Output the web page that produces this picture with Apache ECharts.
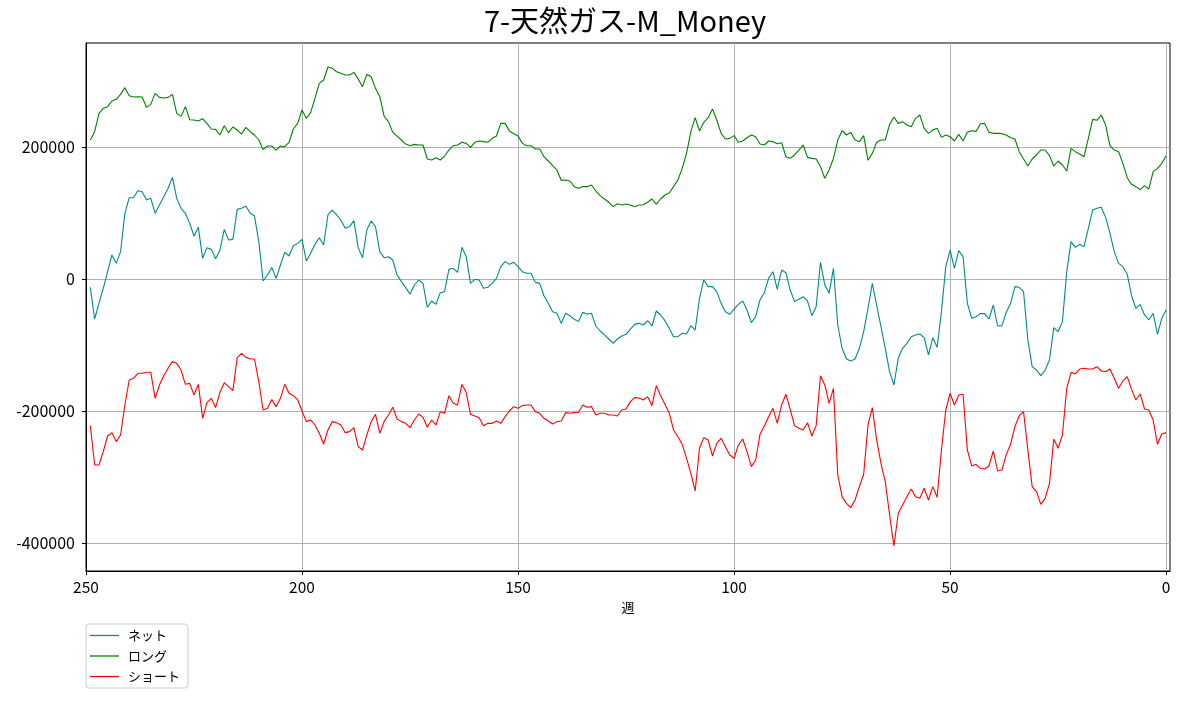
<!DOCTYPE html>
<html><head><meta charset="utf-8">
<script src="https://cdn.jsdelivr.net/npm/echarts@6/dist/echarts.min.js"></script>
<style>html,body{margin:0;padding:0;background:#fff}#c{width:1180px;height:701px}</style>
</head><body><div id="c"></div>
<script>
const chartTitle = '7-天然ガス-M_Money';
const xAxisName = '週';
const seriesNames = ['ネット', 'ロング', 'ショート'];
const firstWeek = 249; // values run from week 249 down to week 0
const xTicks = [250, 200, 150, 100, 50, 0];
const yTicks = [-400000, -200000, 0, 200000];

const netValues = [
-12600,-60600,-36900,-14100,11100,36400,23700,41400,99500,123200,
123200,133800,132300,119700,122200,99500,112100,124700,137400,154000,
122200,107100,99500,84300,65100,78300,31300,47500,44900,30800,
43900,75200,59100,60100,105500,107100,110600,99500,95400,56600,
-3000,6100,17400,1000,21200,40400,34800,50500,54000,60100,
27300,38900,52500,62600,51500,97000,104500,97000,89400,76800,
79300,88400,47500,32300,74200,87900,79300,41400,32300,33800,
28800,6100,-4000,-13100,-23200,-9100,-1500,-6600,-42900,-33300,
-38400,-20700,-19200,14600,16200,10100,48000,33800,-6600,-500,
-1500,-14100,-12600,-6600,1000,18700,26300,22200,25300,18700,
11100,8600,8600,-5100,-6600,-25300,-36900,-49500,-52000,-67200,
-52000,-55600,-61100,-64600,-50500,-53500,-52000,-71200,-78800,-84800,
-90900,-97500,-90900,-86400,-83800,-75800,-68700,-67200,-69700,-63100,
-71200,-48500,-54500,-63100,-74700,-87400,-87400,-82300,-83300,-70700,
-77300,-29300,-1500,-11600,-11600,-19200,-36900,-49500,-53500,-45500,
-38400,-33300,-47000,-66200,-57100,-31800,-20700,1000,11100,-15700,
13600,9600,-16700,-34300,-30800,-26800,-33300,-55600,-41900,25300,
-9100,-21700,16200,-69700,-105000,-121200,-124200,-121200,-105000,-79800,
-44400,-6600,-39400,-72200,-105000,-140400,-160600,-120200,-105000,-97500,
-87400,-84800,-83300,-88900,-115100,-88900,-103500,-49500,18700,43900,
16200,42900,33800,-36900,-59600,-57100,-52500,-52500,-60600,-39400,
-71200,-70700,-50800,-36900,-11600,-12600,-19200,-92000,-132800,-137900,
-146500,-137900,-122700,-73700,-79800,-64600,11100,56600,48000,52500,
49000,76800,104500,107100,108600,93400,69200,41400,23700,18700,
7100,-25300,-44400,-38400,-54500,-62100,-52000,-83800,-59600,-47000
];

const longValues = [
210600,223200,251000,258600,261100,269700,272200,279800,289900,277800,
275700,276200,275700,260100,264600,281300,275200,274200,275200,279800,
251000,246400,261100,241400,240900,239400,242900,235300,227300,226700,
218200,232300,221700,230300,225700,219700,229800,223200,218200,210600,
195900,201500,201500,195400,201500,200500,207100,227300,235800,256000,
243400,252500,273700,296400,301500,321200,319200,314100,311600,309100,
309100,313100,303000,291400,310100,306500,288900,276200,246900,238400,
222200,216600,210600,204500,202000,204000,203000,203000,181800,180300,
183800,180300,186300,195400,202000,203000,207100,205500,199500,207100,
209100,208100,207100,213100,216600,235800,235800,224200,220200,216600,
205500,202000,202000,197000,197000,185300,178800,171700,165100,149500,
150000,148500,139900,137400,139900,139900,142400,133300,126300,121200,
116200,109600,114100,112100,113600,112100,109600,112100,112600,116200,
121200,113600,121200,127300,130300,139900,150000,167700,190400,223200,
244400,224200,237400,244400,257600,240900,220700,212100,213100,217200,
207100,209100,214100,218200,215600,204500,203000,209100,208100,205000,
206500,185300,182800,187900,195400,203000,184300,182800,181800,170200,
152500,165100,182800,210600,224700,218200,222200,210600,208100,217200,
179800,190400,207100,210600,210600,234300,245400,235800,238400,233300,
230800,243400,248500,228300,220700,225700,228300,214600,218200,215600,
209100,219200,209100,222200,224700,223700,234800,235800,222200,220700,
220700,220200,218200,214100,212100,192900,181800,171200,181800,187900,
195400,195400,186900,171200,178800,172700,163600,198000,192900,189400,
185300,213100,241900,240400,248500,233300,202000,195400,192900,175200,
153500,143400,139900,135300,141400,136400,162600,167700,175200,186900
];

const shortValues = [
-222200,-281800,-281800,-261600,-237900,-232800,-246400,-236300,-190900,-153000,
-150500,-142900,-142900,-141400,-141400,-180800,-160600,-146500,-135300,-125200,
-127800,-137900,-159600,-158100,-175700,-159600,-211100,-187400,-180800,-194900,
-171700,-157100,-163100,-169200,-119200,-112600,-118700,-121200,-121200,-155500,
-198500,-195900,-182600,-193400,-180800,-159600,-173200,-176800,-183300,-200000,
-216100,-213600,-221200,-233800,-250000,-228800,-216100,-217700,-221200,-232800,
-231300,-225200,-254000,-259100,-236300,-216100,-205000,-233800,-216100,-206000,
-194400,-212100,-216100,-218700,-225200,-213600,-204500,-209600,-224700,-213600,
-221200,-201000,-203500,-176800,-188400,-190900,-159600,-171700,-205000,-207600,
-210100,-222200,-218700,-218700,-215100,-218700,-208600,-200000,-193400,-195900,
-191900,-190900,-190900,-201000,-203500,-211100,-215100,-219700,-216100,-215100,
-202500,-203500,-202500,-202000,-190900,-194400,-193400,-206000,-203500,-203500,
-206000,-206000,-207600,-198500,-197000,-185800,-179800,-180300,-183300,-178300,
-191900,-161600,-176800,-189900,-203500,-228800,-238900,-250500,-271700,-294400,
-321200,-256500,-240400,-243900,-268200,-249000,-241400,-254000,-266600,-271700,
-251500,-242400,-261600,-284300,-274200,-235400,-222700,-208600,-195900,-218700,
-190900,-174700,-197500,-222200,-226200,-228800,-217700,-237900,-222200,-146500,
-160600,-188400,-165600,-296400,-329800,-339900,-346400,-334800,-314600,-295900,
-221200,-194900,-243900,-279300,-307000,-357500,-404500,-355000,-342400,-329800,
-318200,-329800,-332300,-317100,-334800,-314600,-330800,-259100,-198500,-173200,
-190900,-175700,-174700,-259100,-283300,-280800,-286800,-287900,-283300,-260600,
-290900,-289400,-266100,-250500,-223700,-207100,-201000,-259100,-314600,-322200,
-341400,-332300,-309600,-242400,-256500,-236300,-165600,-141400,-143900,-136400,
-135300,-136400,-136400,-132800,-139400,-140400,-136400,-150500,-165600,-154500,
-148000,-167200,-183300,-174200,-197000,-198500,-213600,-250500,-234800,-232800
];

const colors = ['#008b8b', '#008000', '#ff0000'];
const FONT = '"Noto Sans CJK JP", "Noto Sans", sans-serif';

function toPairs(vals) { return vals.map((v, i) => [firstWeek - i, v]); }

const chart = echarts.init(document.getElementById('c'), null, { renderer: 'canvas' });

const lineSeries = [netValues, longValues, shortValues].map((vals, k) => ({
  name: seriesNames[k],
  type: 'line',
  data: toPairs(vals),
  symbol: 'none',
  showSymbol: false,
  smooth: false,
  animation: false,
  z: 3,
  lineStyle: { color: colors[k], width: 1.1 },
  itemStyle: { color: colors[k] }
}));

chart.setOption({
  animation: false,
  textStyle: { fontFamily: FONT },
  title: {
    text: chartTitle,
    left: 625,
    textAlign: 'center',
    top: 6,
    padding: 0,
    textStyle: { fontFamily: FONT, fontSize: 29, fontWeight: 'normal', color: '#000' }
  },
  legend: {
    data: seriesNames.map(n => ({ name: n, icon: 'path://M0,0L29,0L29,1.3L0,1.3Z' })),
    orient: 'vertical',
    left: 86,
    top: 624,
    padding: [5, 8, 5, 4],
    itemWidth: 29,
    itemHeight: 14,
    itemGap: 7.5,
    symbolKeepAspect: true,
    backgroundColor: '#fff',
    borderColor: '#cccccc',
    borderWidth: 1,
    borderRadius: 3,
    textStyle: { fontFamily: FONT, fontSize: 13, color: '#000', padding: [0, 0, 0, 4] }
  },
  grid: {
    left: 86, right: 10, top: 43, bottom: 130,
    show: true, borderColor: '#000', borderWidth: 1, backgroundColor: 'transparent'
  },
  xAxis: {
    type: 'value',
    inverse: true,
    min: -0.9,
    max: 250,
    name: xAxisName,
    nameLocation: 'middle',
    nameGap: 30,
    nameTextStyle: { fontFamily: FONT, fontSize: 13, color: '#000' },
    axisLine: { show: true, onZero: false, lineStyle: { color: '#000', width: 1 } },
    axisTick: { show: true, inside: false, length: 4, customValues: xTicks, lineStyle: { color: '#000' } },
    axisLabel: { customValues: xTicks, fontFamily: FONT, fontSize: 15.5, color: '#000', margin: 8,
      formatter: v => String(v) },
    splitLine: { show: true, lineStyle: { color: '#b0b0b0', width: 1 } }
  },
  yAxis: {
    type: 'value',
    min: -442424,
    max: 357576,
    axisLine: { show: true, onZero: false, lineStyle: { color: '#000', width: 1 } },
    axisTick: { show: true, inside: false, length: 4, customValues: yTicks, lineStyle: { color: '#000' } },
    axisLabel: { customValues: yTicks, fontFamily: FONT, fontSize: 16, color: '#000', margin: 11,
      formatter: v => String(v) },
    splitLine: { show: true, lineStyle: { color: '#b0b0b0', width: 1 } }
  },
  series: lineSeries
});
</script>
</body></html>
